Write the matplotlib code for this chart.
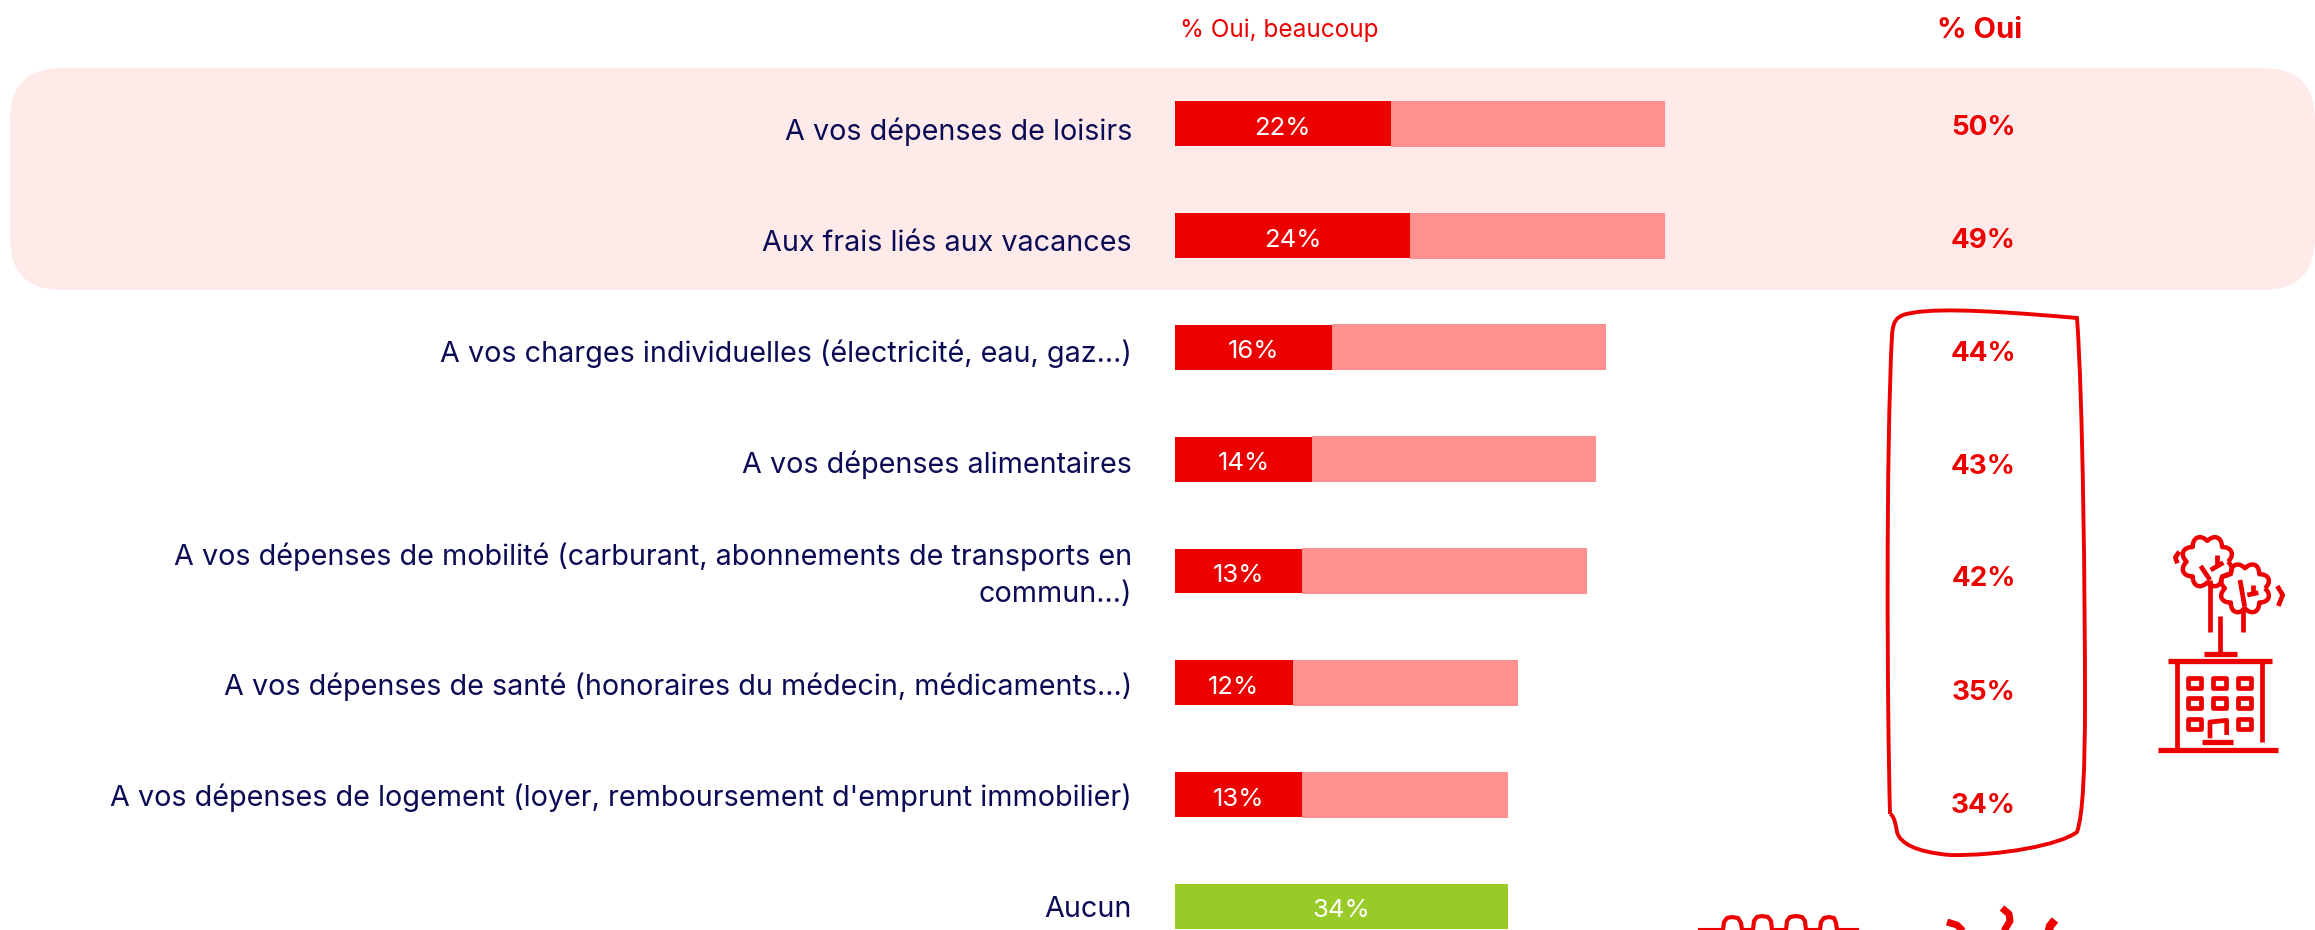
import numpy as np
import matplotlib
matplotlib.use('Agg')
import matplotlib.pyplot as plt
from matplotlib.patches import FancyBboxPatch, PathPatch, Rectangle
from matplotlib.path import Path

labels = [
    "A vos dépenses de loisirs",
    "Aux frais liés aux vacances",
    "A vos charges individuelles (électricité, eau, gaz...)",
    "A vos dépenses alimentaires",
    "A vos dépenses de mobilité (carburant, abonnements de transports en\ncommun...)",
    "A vos dépenses de santé (honoraires du médecin, médicaments...)",
    "A vos dépenses de logement (loyer, remboursement d'emprunt immobilier)",
    "Aucun",
]
oui_beaucoup = [22, 24, 16, 14, 13, 12, 13, 0]
oui_un_peu = [28, 26, 28, 29, 29, 23, 21, 0]
aucun = [0, 0, 0, 0, 0, 0, 0, 34]
oui_total = [50, 49, 44, 43, 42, 35, 34]

RED = '#EC0000'
PINK = '#FF9090'
GREEN = '#98CA28'
NAVY = '#0B0B55'
W, H = 2315, 930
PX_PER_PCT = 9.8
ROW_PX = 111.8
ROW0_PX = 123.8
plt.rcParams['font.family'] = ['Inter', 'DejaVu Sans']

fig = plt.figure(figsize=(W / 100, H / 100), dpi=100, facecolor='white')

# overlay in pixel coordinates for the hand drawn decoration
deco = fig.add_axes([0, 0, 1, 1])
deco.set_xlim(0, W)
deco.set_ylim(H, 0)
deco.axis('off')

ax = fig.add_axes([0, 0, 1, 1])
ax.set_xlim(-1175 / PX_PER_PCT, (W - 1175) / PX_PER_PCT)
ax.set_ylim((H - ROW0_PX) / ROW_PX, -ROW0_PX / ROW_PX)
ax.axis('off')
ax.patch.set_alpha(0)


def row_y(px):
    return (px - ROW0_PX) / ROW_PX


deco.add_patch(FancyBboxPatch((10, 68), 2305, 222, boxstyle='round,pad=0,rounding_size=52',
                              fc='#FFEAEA', ec='none'))

y = np.arange(len(labels))
ax.barh(y, oui_beaucoup, height=0.40, color=RED)
ax.barh(y, oui_un_peu, left=oui_beaucoup, height=0.41, color=PINK)
ax.barh(y, aucun, height=0.40, color=GREEN)

for i, lab in enumerate(labels):
    base = 139.5 + 111 * i
    if '\n' in lab:
        base += 19
    ax.text(-4.4, row_y(base), lab, ha='right', va='baseline', color=NAVY, fontsize=20.7,
            linespacing=1.5)
    if oui_beaucoup[i]:
        ax.text(oui_beaucoup[i] / 2, i + 11 / ROW_PX, f'{oui_beaucoup[i]}%', ha='center',
                va='baseline', color='white', fontsize=18.5)
    if aucun[i]:
        ax.text(aucun[i] / 2, i + 11 / ROW_PX, f'{aucun[i]}%', ha='center', va='baseline',
                color='white', fontsize=18.5)
for i, v in enumerate(oui_total):
    ax.text(82.5, row_y(134.5 + 113 * i), f'{v}%', ha='center', va='baseline', color=RED,
            fontsize=20, fontweight='bold')

deco.text(1279, 30, '% Oui, beaucoup', ha='center', va='center', color=RED, fontsize=17.5)
deco.text(1980, 30, '% Oui', ha='center', va='center', color=RED, fontsize=21, fontweight='bold')

# bracket round the values
pts = [(1890, 814),
       (1887, 700), (1886, 450), (1892, 335),
       (1893, 322), (1896, 318), (1903, 315),
       (1925, 308), (1975, 309), (2077, 318),
       (2083, 400), (2085, 600), (2085, 700),
       (2085, 770), (2083, 815), (2077, 832),
       (2060, 845), (2000, 856), (1950, 855),
       (1915, 852), (1900, 843), (1897, 832),
       (1895, 820), (1893, 815), (1890, 814)]
codes = [Path.MOVETO] + [Path.CURVE4] * (len(pts) - 1)
deco.add_patch(PathPatch(Path(pts, codes), fc='none', ec=RED, lw=2.8))


# building + trees icon, coordinates read on the 3x crop
def ix(v):
    return 2130 + np.asarray(v, dtype=float) / 3


def iy(v):
    return 520 + np.asarray(v, dtype=float) / 3


def seg(xs, ys, lw=3.4):
    deco.plot(ix(xs), iy(ys), color=RED, lw=lw, solid_capstyle='butt', solid_joinstyle='round')


seg([85, 445], [690, 690], 3.8)
seg([115, 425], [424, 424], 3.8)
seg([140, 140], [424, 690])
seg([395, 395], [424, 665])
seg([270, 270], [288, 400])
seg([222, 322], [402, 402], 3.8)
seg([215, 308], [665, 665], 3.8)
seg([240, 240, 290, 290], [655, 606, 601, 645])
for wx in (165, 240, 315):
    for wy in (465, 527, 590):
        if wx == 240 and wy == 590:
            continue
        deco.add_patch(Rectangle((ix(wx + 8), iy(wy + 8)), 40 / 3, 30 / 3, fc='none', ec=RED,
                                 lw=3.4, joinstyle='round'))

for cx, cy, r, n in [(232, 125, 62, 8), (345, 205, 60, 8)]:
    t = np.linspace(0, 2 * np.pi, 300)
    rr = r + 16 * np.abs(np.sin(n * t / 2))
    seg(cx + rr * np.cos(t), cy + rr * np.sin(t), 3.2)
seg([240, 240], [180, 335])
seg([212, 240], [138, 180])
seg([242, 280], [150, 128])
seg([260, 260], [138, 105])
seg([338, 338], [260, 335])
seg([330, 344], [180, 260])
seg([352, 385], [225, 218])
seg([370, 370], [218, 195])
seg([148, 136, 142], [95, 112, 130])
seg([442, 458, 445], [198, 225, 258])

# squiggle and strokes cut by the bottom edge
sq_x = [1700, 1723, 1724, 1727, 1732, 1738, 1741, 1742, 1753, 1754, 1757, 1762, 1768, 1771,
        1772, 1786, 1787, 1790, 1796, 1802, 1805, 1806, 1820, 1821, 1824, 1829, 1834, 1836,
        1837, 1857]
sq_y = [930, 930, 922, 918, 917, 918, 923, 930, 930, 921, 917, 916, 917, 921, 930, 930, 921,
        917, 916, 917, 921, 930, 930, 922, 918, 917, 918, 923, 930, 930]
deco.plot(sq_x, sq_y, color=RED, lw=3, solid_joinstyle='round')
deco.plot([1947, 1957, 1963], [922, 925, 931], color=RED, lw=5, solid_capstyle='butt')
deco.plot([2002, 2009, 2010, 2004], [908, 914, 921, 931], color=RED, lw=5, solid_capstyle='butt')
deco.plot([2055, 2050, 2049], [920, 926, 931], color=RED, lw=6, solid_capstyle='butt')

fig.savefig('out.png', dpi=100)
